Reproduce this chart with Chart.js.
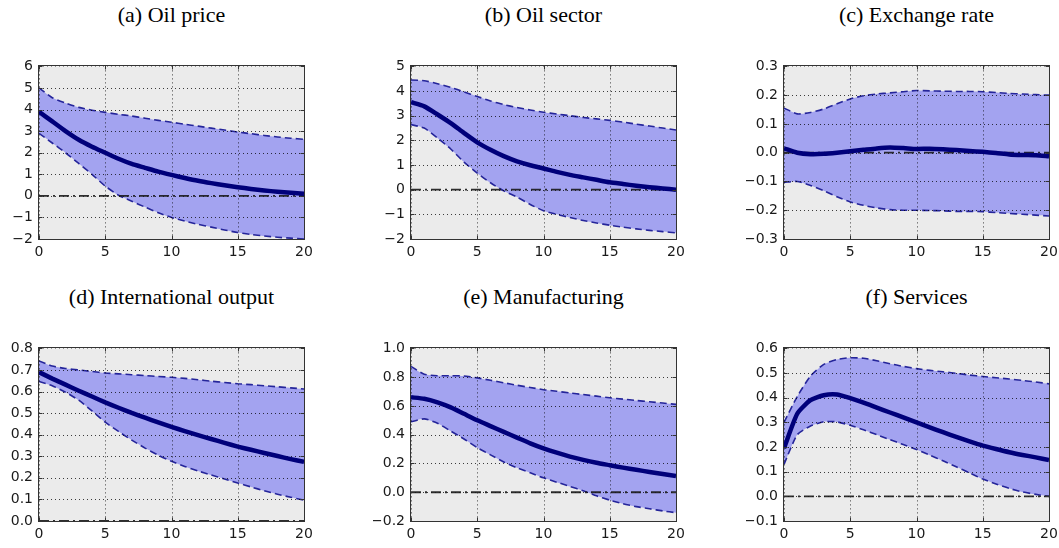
<!DOCTYPE html>
<html>
<head>
<meta charset="utf-8">
<script src="https://cdn.jsdelivr.net/npm/chart.js@4.4.0/dist/chart.umd.min.js"></script>
<style>
  html, body { margin: 0; padding: 0; background: #fff; }
  body { width: 1059px; height: 548px; position: relative; overflow: hidden; }
  .title {
    position: absolute;
    font-family: "Liberation Serif", "Times New Roman", serif;
    font-size: 22px;
    line-height: 22px;
    color: #000;
    text-align: center;
    white-space: nowrap;
  }
  canvas { position: absolute; }
</style>
</head>
<body>
<script>
// Forecast horizons (x axis)
const horizons = [0, 1, 2, 3, 4, 5, 6, 7, 8, 9, 10, 11, 12, 13, 14, 15, 16, 17, 18, 19, 20];
const xTickLabels = ['0', '5', '10', '15', '20'];

// (a) Oil price
const oilPriceMedian = [3.9, 3.45, 3.0, 2.6, 2.28, 2.0, 1.72, 1.48, 1.3, 1.12, 0.97, 0.83, 0.7, 0.59, 0.49, 0.4, 0.32, 0.25, 0.19, 0.14, 0.1];
const oilPriceUpper  = [5.0, 4.55, 4.3, 4.1, 3.97, 3.87, 3.78, 3.7, 3.6, 3.5, 3.41, 3.32, 3.23, 3.14, 3.05, 2.96, 2.88, 2.8, 2.73, 2.67, 2.62];
const oilPriceLower  = [2.9, 2.45, 2.0, 1.5, 1.0, 0.45, 0.03, -0.25, -0.52, -0.78, -1.0, -1.17, -1.32, -1.45, -1.58, -1.7, -1.79, -1.86, -1.92, -1.96, -2.0];
const oilPriceTicks  = ['\u22122', '\u22121', '0', '1', '2', '3', '4', '5', '6'];

// (b) Oil sector
const oilSectorMedian = [3.55, 3.38, 3.05, 2.7, 2.3, 1.92, 1.62, 1.36, 1.15, 0.99, 0.86, 0.72, 0.6, 0.5, 0.4, 0.3, 0.23, 0.16, 0.1, 0.05, 0.0];
const oilSectorUpper  = [4.45, 4.42, 4.3, 4.15, 3.97, 3.78, 3.6, 3.45, 3.33, 3.23, 3.14, 3.07, 3.0, 2.93, 2.87, 2.81, 2.74, 2.66, 2.58, 2.5, 2.42];
const oilSectorLower  = [2.64, 2.5, 2.1, 1.65, 1.12, 0.67, 0.28, -0.05, -0.3, -0.6, -0.85, -1.0, -1.13, -1.25, -1.35, -1.44, -1.52, -1.59, -1.65, -1.7, -1.75];
const oilSectorTicks  = ['\u22122', '\u22121', '0', '1', '2', '3', '4', '5'];

// (c) Exchange rate
const exchangeMedian = [0.015, 0.0, -0.005, -0.004, 0.0, 0.005, 0.01, 0.015, 0.018, 0.016, 0.013, 0.014, 0.012, 0.009, 0.006, 0.003, -0.001, -0.006, -0.008, -0.009, -0.012];
const exchangeUpper  = [0.155, 0.135, 0.14, 0.152, 0.17, 0.187, 0.198, 0.204, 0.208, 0.212, 0.216, 0.215, 0.214, 0.213, 0.213, 0.212, 0.209, 0.206, 0.204, 0.202, 0.2];
const exchangeLower  = [-0.103, -0.1, -0.114, -0.132, -0.153, -0.171, -0.183, -0.192, -0.198, -0.2, -0.2, -0.201, -0.202, -0.204, -0.204, -0.205, -0.208, -0.211, -0.214, -0.217, -0.22];
const exchangeTicks  = ['\u22120.3', '\u22120.2', '\u22120.1', '0.0', '0.1', '0.2', '0.3'];

// (d) International output
const intlMedian = [0.69, 0.66, 0.632, 0.604, 0.577, 0.55, 0.525, 0.501, 0.479, 0.457, 0.436, 0.417, 0.398, 0.38, 0.362, 0.345, 0.33, 0.315, 0.301, 0.287, 0.274];
const intlUpper  = [0.742, 0.718, 0.707, 0.7, 0.693, 0.686, 0.682, 0.678, 0.674, 0.67, 0.666, 0.661, 0.655, 0.648, 0.642, 0.636, 0.632, 0.627, 0.622, 0.617, 0.612];
const intlLower  = [0.647, 0.627, 0.597, 0.56, 0.51, 0.458, 0.415, 0.375, 0.338, 0.305, 0.277, 0.253, 0.232, 0.213, 0.195, 0.176, 0.158, 0.14, 0.124, 0.11, 0.097];
const intlTicks  = ['0.0', '0.1', '0.2', '0.3', '0.4', '0.5', '0.6', '0.7', '0.8'];

// (e) Manufacturing
const manufMedian = [0.66, 0.65, 0.625, 0.59, 0.545, 0.5, 0.46, 0.42, 0.38, 0.34, 0.305, 0.275, 0.248, 0.225, 0.205, 0.188, 0.171, 0.156, 0.141, 0.127, 0.113];
const manufUpper  = [0.875, 0.82, 0.81, 0.81, 0.808, 0.795, 0.778, 0.761, 0.744, 0.728, 0.713, 0.702, 0.69, 0.679, 0.668, 0.657, 0.647, 0.638, 0.629, 0.62, 0.611];
const manufLower  = [0.49, 0.51, 0.48, 0.425, 0.37, 0.31, 0.26, 0.21, 0.17, 0.135, 0.1, 0.07, 0.04, 0.01, -0.025, -0.055, -0.08, -0.1, -0.115, -0.13, -0.142];
const manufTicks  = ['\u22120.2', '0.0', '0.2', '0.4', '0.6', '0.8', '1.0'];

// (f) Services
const servicesMedian = [0.195, 0.335, 0.39, 0.41, 0.413, 0.398, 0.38, 0.36, 0.34, 0.32, 0.3, 0.28, 0.26, 0.241, 0.223, 0.206, 0.192, 0.179, 0.168, 0.158, 0.147];
const servicesUpper  = [0.3, 0.405, 0.488, 0.535, 0.555, 0.562, 0.56, 0.55, 0.538, 0.527, 0.518, 0.511, 0.505, 0.499, 0.492, 0.486, 0.481, 0.476, 0.47, 0.464, 0.456];
const servicesLower  = [0.13, 0.25, 0.285, 0.303, 0.302, 0.288, 0.27, 0.25, 0.23, 0.21, 0.19, 0.167, 0.144, 0.12, 0.095, 0.07, 0.05, 0.032, 0.018, 0.008, 0.0];
const servicesTicks  = ['\u22120.1', '0.0', '0.1', '0.2', '0.3', '0.4', '0.5', '0.6'];

const panelTitles = ['(a) Oil price', '(b) Oil sector', '(c) Exchange rate',
                     '(d) International output', '(e) Manufacturing', '(f) Services'];

const panels = [
  { median: oilPriceMedian,  upper: oilPriceUpper,  lower: oilPriceLower,  ticks: oilPriceTicks,  min: -2,   max: 6,   step: 1 },
  { median: oilSectorMedian, upper: oilSectorUpper, lower: oilSectorLower, ticks: oilSectorTicks, min: -2,   max: 5,   step: 1 },
  { median: exchangeMedian,  upper: exchangeUpper,  lower: exchangeLower,  ticks: exchangeTicks,  min: -0.3, max: 0.3, step: 0.1 },
  { median: intlMedian,      upper: intlUpper,      lower: intlLower,      ticks: intlTicks,      min: 0,    max: 0.8, step: 0.1 },
  { median: manufMedian,     upper: manufUpper,     lower: manufLower,     ticks: manufTicks,     min: -0.2, max: 1.0, step: 0.2 },
  { median: servicesMedian,  upper: servicesUpper,  lower: servicesLower,  ticks: servicesTicks,  min: -0.1, max: 0.6, step: 0.1 }
];

// Grid geometry (plot areas)
const colLeft = [39, 411, 784];
const rowTop = [62, 344];
const titleTop = [4, 286];
const plotW = 265, plotH = 177;
const padL = 39, padR = 16, padT = 10, padB = 23;

// Plot background, dotted grid over the band, dash-dot zero line, frame with inward ticks
const axesDecor = {
  id: 'axesDecor',
  beforeDatasetsDraw(chart) {
    const { ctx, chartArea: a } = chart;
    ctx.save();
    ctx.fillStyle = '#ebebeb';
    ctx.fillRect(a.left, a.top, a.width, a.height);
    ctx.restore();
  },
  afterDatasetDraw(chart, args) {
    if (args.index !== 1) return;
    const { ctx, chartArea: a, scales } = chart;
    ctx.save();
    ctx.beginPath();
    ctx.rect(a.left, a.top, a.width, a.height);
    ctx.clip();
    ctx.strokeStyle = 'rgba(0,0,0,0.75)';
    ctx.lineWidth = 1;
    ctx.setLineDash([1, 3]);
    scales.x.ticks.forEach(t => {
      const px = Math.round(scales.x.getPixelForValue(t.value)) + 0.5;
      ctx.beginPath(); ctx.moveTo(px, a.top); ctx.lineTo(px, a.bottom); ctx.stroke();
    });
    scales.y.ticks.forEach(t => {
      const py = Math.round(scales.y.getPixelForValue(t.value)) + 0.5;
      ctx.beginPath(); ctx.moveTo(a.left, py); ctx.lineTo(a.right, py); ctx.stroke();
    });
    // zero reference line
    const zy = scales.y.getPixelForValue(0);
    ctx.strokeStyle = 'rgba(25,25,25,0.9)';
    ctx.lineWidth = 1.8;
    ctx.setLineDash([10, 4, 2, 4]);
    ctx.beginPath(); ctx.moveTo(a.left, zy); ctx.lineTo(a.right, zy); ctx.stroke();
    ctx.restore();
  },
  afterDraw(chart) {
    const { ctx, chartArea: a, scales } = chart;
    const L = Math.round(a.left) - 0.5, T = Math.round(a.top) - 0.5;
    const R = Math.round(a.right) + 0.5, B = Math.round(a.bottom) + 0.5;
    ctx.save();
    ctx.strokeStyle = '#333';
    ctx.lineWidth = 1;
    ctx.strokeRect(L, T, R - L, B - T);
    ctx.beginPath();
    scales.x.ticks.forEach(t => {
      const px = Math.round(scales.x.getPixelForValue(t.value)) + 0.5;
      ctx.moveTo(px, B); ctx.lineTo(px, B - 4);
      ctx.moveTo(px, T); ctx.lineTo(px, T + 4);
    });
    scales.y.ticks.forEach(t => {
      const py = Math.round(scales.y.getPixelForValue(t.value)) + 0.5;
      ctx.moveTo(L, py); ctx.lineTo(L + 4, py);
      ctx.moveTo(R, py); ctx.lineTo(R - 4, py);
    });
    ctx.stroke();
    ctx.restore();
  }
};

const tickFont = { family: '"DejaVu Sans", sans-serif', size: 14 };

panels.forEach((p, i) => {
  const col = i % 3, row = Math.floor(i / 3);
  const left = colLeft[col], top = rowTop[row];

  const title = document.createElement('div');
  title.className = 'title';
  title.textContent = panelTitles[i];
  title.style.left = (left + plotW / 2 - 150) + 'px';
  title.style.width = '300px';
  title.style.top = titleTop[row] + 'px';
  document.body.appendChild(title);

  const canvas = document.createElement('canvas');
  const cw = plotW + padL + padR, ch = plotH + padT + padB;
  canvas.width = cw; canvas.height = ch;
  canvas.style.width = cw + 'px'; canvas.style.height = ch + 'px';
  canvas.style.left = (left - padL) + 'px';
  canvas.style.top = (top - padT) + 'px';
  document.body.appendChild(canvas);

  const pts = arr => horizons.map((h, k) => ({ x: h, y: arr[k] }));

  new Chart(canvas, {
    type: 'line',
    data: {
      datasets: [
        { data: pts(p.upper), order: 2, borderColor: '#25259a', borderWidth: 1.6, borderDash: [7, 4],
          backgroundColor: '#a3a3f0', fill: '+1', pointRadius: 0, tension: 0.2 },
        { data: pts(p.lower), order: 1, borderColor: '#25259a', borderWidth: 1.6, borderDash: [7, 4],
          fill: false, pointRadius: 0, tension: 0.2 },
        { data: pts(p.median), order: 0, borderColor: '#00007a', borderWidth: 4.5,
          fill: false, pointRadius: 0, tension: 0.2 }
      ]
    },
    options: {
      responsive: false,
      animation: false,
      devicePixelRatio: 1,
      layout: { padding: { left: 1, right: padR, top: padT, bottom: 0 } },
      plugins: { legend: { display: false }, tooltip: { enabled: false } },
      scales: {
        x: {
          type: 'linear', min: 0, max: 20,
          grid: { display: false, drawTicks: false },
          border: { display: false },
          ticks: { stepSize: 5, padding: 5, color: '#1a1a1a', font: tickFont, maxRotation: 0,
                   callback: (v, idx) => xTickLabels[idx] },
          afterFit: s => { s.height = padB; }
        },
        y: {
          min: p.min, max: p.max,
          grid: { display: false, drawTicks: false },
          border: { display: false },
          ticks: { stepSize: p.step, padding: 6, color: '#1a1a1a', font: tickFont,
                   callback: (v, idx) => p.ticks[idx] },
          afterFit: s => { s.width = padL - 1; }
        }
      }
    },
    plugins: [axesDecor]
  });
});
</script>
</body>
</html>
